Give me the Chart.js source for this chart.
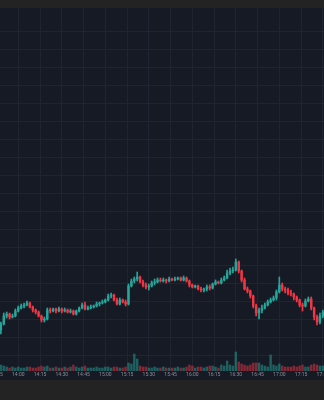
<!DOCTYPE html>
<html>
<head>
<meta charset="utf-8">
<script src="https://cdn.jsdelivr.net/npm/chart.js@4.4.0/dist/chart.umd.min.js"></script>
<style>
    html, body { margin: 0; padding: 0; background: #232323; }
    body { width: 324px; height: 400px; overflow: hidden; position: relative; }
    #wrap { position: absolute; left: 0; top: 8px; width: 324px; height: 372px; background: #161a25; }
    canvas { display: block; }
</style>
</head>
<body>
<div id="wrap"><canvas id="chart" width="324" height="372"></canvas></div>
<script>
// 2-minute candles, time in minutes after 13:00
const START_MIN = 48;
const STEP_MIN = 2;

const opens  = [70,76,84,86,83,84,89,92,94,95, 97,93,90,88,84,80,81,90,89,91, 89,91,89,90,88,89,86,89,92,95,
                91,92,93,94,96,97,98,100,104,105, 100,96,100,98,96,114,119,121,123,118, 115,113,114,117,118,120,119,120,119,121,
                120,121,122,120,122,119,115,113,114,111, 110,111,113,112,116,118,117,120,122,127, 129,130,138,129,120,111,109,104,94,87,
                90,92,95,98,100,102,108,115,111,110, 107,106,103,100,95,94,99,101,92,83, 78,84];
const closes = [76,84,86,83,84,89,92,94,95,97, 93,90,88,84,80,81,90,89,91,89, 91,89,90,88,89,86,89,92,95,91,
                92,93,94,96,97,98,100,104,105,100, 96,100,98,96,114,119,121,123,118,115, 113,114,117,118,120,119,120,119,121,120,
                121,122,120,122,119,115,113,114,111,110, 111,113,112,116,118,117,120,122,127,129, 130,138,129,120,111,109,104,94,87,90,
                92,95,98,100,102,108,115,111,110,107, 106,103,100,95,94,99,101,92,83,78, 84,88];
const highs  = [78,87,88,87,86,91,94,96,97,99, 98,94,91,89,85,83,92,92,92,92, 93,92,92,91,91,90,90,93,97,98,
                94,95,95,98,98,100,101,106,107,106, 102,102,101,100,116,121,123,128,124,120, 117,116,119,121,122,122,122,121,123,122,
                123,123,123,124,123,120,116,115,115,113, 112,115,115,117,120,119,122,124,130,132, 133,141,139,130,122,113,110,105,96,92,
                95,97,100,102,104,110,123,117,113,112, 110,107,104,101,97,101,103,103,93,85, 87,90];
const lows   = [66,75,82,81,82,83,88,91,92,94, 92,88,86,83,78,78,80,87,88,87, 88,87,88,87,87,85,85,88,91,90,
                90,91,92,93,94,96,97,99,102,99, 95,95,97,94,95,113,117,119,117,113, 111,110,113,115,117,118,118,117,118,119,
                119,120,119,119,118,113,112,112,110,108, 108,109,110,111,115,116,116,119,121,125, 127,129,127,118,110,107,102,92,84,81,
                87,91,94,97,99,100,107,109,107,105, 104,100,98,93,89,93,98,90,80,75, 76,82];
const volumes = [6,5,4,3,4,3,4,3,3,4, 4,3,3,4,5,4,5,3,3,4, 3,3,4,3,4,6,4,3,4,5,
                 3,3,3,4,3,3,4,4,3,4, 4,3,3,4,8,7,17,12,5,4, 4,3,3,4,3,3,4,3,3,3,
                 3,4,3,3,4,6,5,3,4,4, 3,4,5,5,4,3,6,5,10,6, 5,19,9,7,6,5,6,8,8,8,
                 6,5,4,16,6,5,7,5,4,4, 4,5,4,5,6,4,4,6,7,6, 5,5];

const tickMinutes = [45, 60, 75, 90, 105, 120, 135, 150, 165, 180, 195, 210, 225, 240, 255, 270];
const tickLabels  = ['13:45', '14:00', '14:15', '14:30', '14:45', '15:00', '15:15', '15:30',
                     '15:45', '16:00', '16:15', '16:30', '16:45', '17:00', '17:15', '17:30'];

const UP = '#26a69a';
const DOWN = '#f23645';
const UP_VOL = 'rgba(38, 166, 154, 0.5)';
const DOWN_VOL = 'rgba(242, 54, 69, 0.5)';
const GRID = '#1f2430';

const times = opens.map((_, i) => START_MIN + STEP_MIN * i);
const isUp = opens.map((o, i) => closes[i] >= o);

const bodies = times.map((t, i) => ({ x: t, y: [opens[i], closes[i]] }));
const wicks = times.map((t, i) => ({ x: t, y: [lows[i], highs[i]] }));
const vols = times.map((t, i) => ({ x: t, y: volumes[i] }));

const candleColors = isUp.map(u => u ? UP : DOWN);
const volColors = isUp.map(u => u ? UP_VOL : DOWN_VOL);

const ctx = document.getElementById('chart').getContext('2d');

new Chart(ctx, {
    type: 'bar',
    data: {
        datasets: [
            {
                label: 'body',
                data: bodies,
                backgroundColor: candleColors,
                barThickness: 1.8,
                yAxisID: 'y'
            },
            {
                label: 'wick',
                data: wicks,
                backgroundColor: candleColors,
                barThickness: 1,
                yAxisID: 'y'
            },
            {
                label: 'volume',
                data: vols,
                backgroundColor: volColors,
                barThickness: 1.8,
                yAxisID: 'yv'
            }
        ]
    },
    options: {
        responsive: false,
        animation: false,
        events: [],
        layout: { padding: 0 },
        datasets: { bar: { grouped: false } },
        plugins: {
            legend: { display: false },
            tooltip: { enabled: false }
        },
        scales: {
            x: {
                type: 'linear',
                min: 47.4,
                max: 270.8,
                offset: false,
                grid: { color: GRID, offset: false, drawTicks: false },
                border: { display: false },
                afterBuildTicks: axis => {
                    axis.ticks = tickMinutes.map(v => ({ value: v }));
                },
                afterFit: axis => {
                    axis.height = 9;
                    axis.paddingLeft = 0;
                    axis.paddingRight = 0;
                },
                ticks: {
                    autoSkip: false,
                    maxRotation: 0,
                    minRotation: 0,
                    padding: 1,
                    color: '#8b8e96',
                    font: { size: 5, family: 'Roboto' },
                    callback: (value, index) => tickLabels[index]
                }
            },
            y: {
                type: 'linear',
                min: 29,
                max: 392,
                grid: { color: GRID, drawTicks: false },
                border: { display: false },
                ticks: { display: false },
                afterBuildTicks: axis => {
                    const ticks = [];
                    for (let v = 45; v < 380; v += 17.95) ticks.push({ value: v });
                    axis.ticks = ticks;
                },
                afterFit: axis => { axis.width = 0; }
            },
            yv: {
                type: 'linear',
                display: false,
                min: 0,
                max: 363
            }
        }
    }
});
</script>
</body>
</html>
